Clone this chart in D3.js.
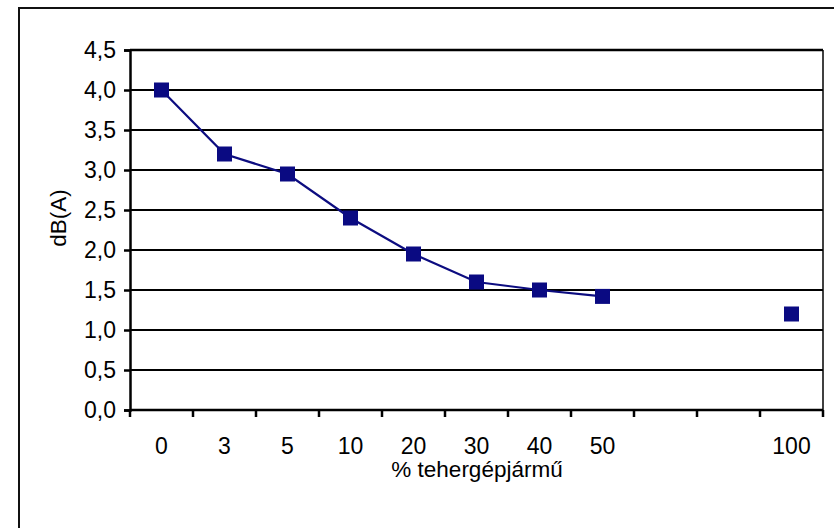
<!DOCTYPE html>
<html><head><meta charset="utf-8">
<script src="https://cdn.jsdelivr.net/npm/d3@7"></script>
<style>body{margin:0;background:#fff}svg{display:block}text{font-family:"Liberation Sans",Arial,sans-serif;fill:#000}</style>
</head><body><svg id="c" width="834" height="528"></svg>
<script>
const categories = ["0","3","5","10","20","30","40","50","","","100"];
const catKeys = ["0","3","5","10","20","30","40","50","g1","g2","100"];
const values = [4.0,3.2,2.95,2.4,1.95,1.6,1.5,1.42,null,null,1.2];
const yTicks = [0,0.5,1,1.5,2,2.5,3,3.5,4,4.5];
const yTickLabels = ["0,0","0,5","1,0","1,5","2,0","2,5","3,0","3,5","4,0","4,5"];
const xTitle = "% tehergépjármű";
const yTitle = "dB(A)";

const svg = d3.select("#c");
const L=130,R=823,T=50,B=410, fs=23;
const x = d3.scaleBand().domain(catKeys).range([L,R]);
const y = d3.scaleLinear().domain([0,4.5]).range([B,T]);

// outer frame
svg.append("rect").attr("x",19).attr("y",8).attr("width",840).attr("height",540)
  .attr("fill","none").attr("stroke","#111").attr("stroke-width",2);

// gridlines
svg.append("g").selectAll("line").data(yTicks.slice(1)).join("line")
  .attr("x1",L).attr("x2",R).attr("y1",d=>y(d)).attr("y2",d=>y(d))
  .attr("stroke","#000").attr("stroke-width",d=>d===4.5?2.5:2);
// right border
svg.append("line").attr("x1",R).attr("x2",R).attr("y1",T).attr("y2",B).attr("stroke","#000").attr("stroke-width",1.5);

// y axis
const ya = svg.append("g").attr("transform",`translate(${L},0)`)
  .call(d3.axisLeft(y).tickValues(yTicks).tickSize(6).tickFormat((d,i)=>yTickLabels[i]));
ya.select(".domain").attr("stroke","#000").attr("stroke-width",2.5);
ya.selectAll(".tick line").attr("stroke","#000").attr("stroke-width",2.5);
ya.selectAll(".tick text").attr("x",-14).attr("font-size",fs).attr("fill","#000")
  .attr("font-family","Liberation Sans, Arial, sans-serif");

// x axis
const xa = svg.append("g").attr("transform",`translate(0,${B})`)
  .call(d3.axisBottom(x).tickSize(0).tickFormat((d,i)=>categories[i]));
xa.select(".domain").remove();
svg.append("line").attr("x1",L).attr("x2",R).attr("y1",B).attr("y2",B).attr("stroke","#000").attr("stroke-width",2.5);
const bounds = catKeys.map(k=>x(k)).concat([R]);
svg.append("g").selectAll("line").data(bounds).join("line")
  .attr("x1",d=>d).attr("x2",d=>d).attr("y1",B).attr("y2",B+7).attr("stroke","#000").attr("stroke-width",2.5);
xa.selectAll(".tick text").attr("y",44).attr("dy",0).attr("font-size",fs).attr("fill","#000")
  .attr("font-family","Liberation Sans, Arial, sans-serif");

// titles
svg.append("text").attr("x",477).attr("y",477).attr("text-anchor","middle")
  .attr("font-size",22.5).text(xTitle);
svg.append("text").attr("transform",`translate(66,218) rotate(-90)`).attr("text-anchor","middle")
  .attr("font-size",22.5).text(yTitle);

// line
const pts = catKeys.map((k,i)=>({k,v:values[i]}));
const line = d3.line().defined(d=>d.v!=null).x(d=>x(d.k)+x.bandwidth()/2).y(d=>y(d.v));
svg.append("path").datum(pts).attr("d",line).attr("fill","none").attr("stroke","#0c0c80").attr("stroke-width",2.2);
svg.append("g").selectAll("rect").data(pts.filter(d=>d.v!=null)).join("rect")
  .attr("x",d=>x(d.k)+x.bandwidth()/2-7.5).attr("y",d=>y(d.v)-7.5).attr("width",15).attr("height",15)
  .attr("fill","#0a0a82");
</script></body></html>
